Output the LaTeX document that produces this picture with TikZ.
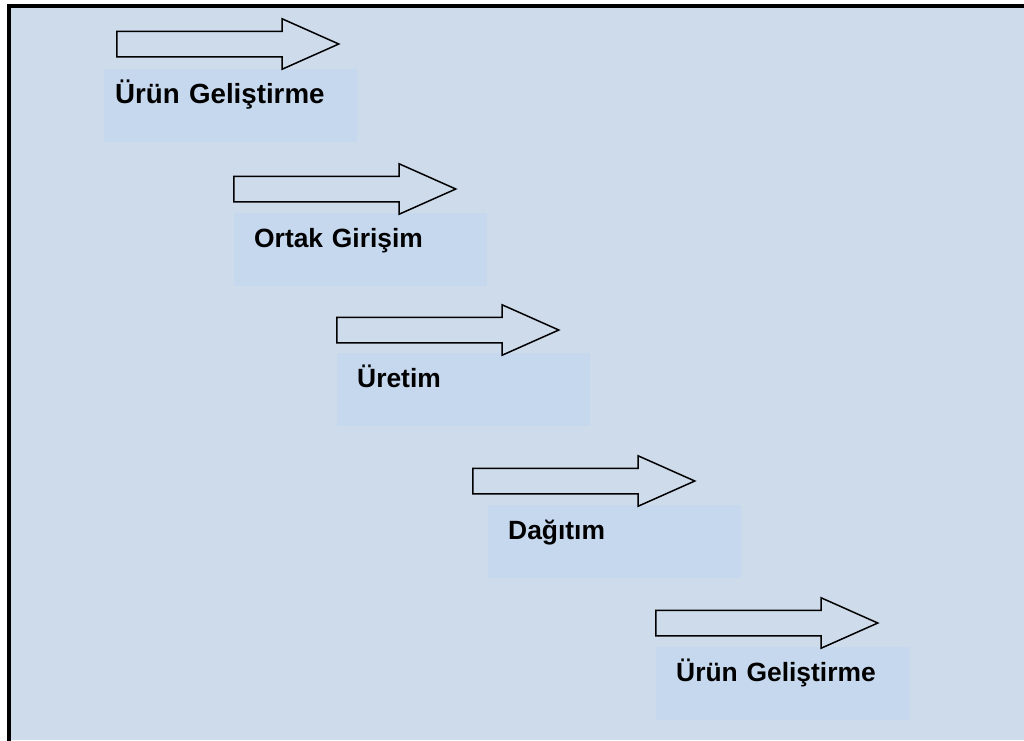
\documentclass[tikz,border=0pt]{standalone}
\usepackage{fontspec}
\setmainfont{Liberation Sans}
\usetikzlibrary{shapes.arrows}

\definecolor{panelbg}{RGB}{206,219,235}
\definecolor{stagefill}{RGB}{198,216,238}

\begin{document}
\begin{tikzpicture}[
    x=1pt, y=-1pt,
    font=\bfseries\fontsize{26.4}{30}\selectfont,
    stagearrow/.style={
        single arrow,
        draw=black,
        line width=1.5pt,
        inner xsep=0pt,
        inner ysep=12pt,
        minimum height=222pt,
        minimum width=49pt,
        single arrow head extend=12.5pt,
        single arrow tip angle=48,
        anchor=tail
    },
    stagebox/.style={
        rectangle,
        fill=stagefill,
        anchor=north west,
        align=left,
        inner ysep=0pt,
        inner xsep=20pt,
        text width=213pt,
        text height=34pt,
        text depth=39pt
    }
]

    % Panel with its frame
    \useasboundingbox (0,0) rectangle (1024,740);
    \fill [white] (0,0) rectangle (1024,740);
    \fill [panelbg] (9,6) rectangle (1024,740);
    \draw [line width=4pt] (9,742) -- (9,6) -- (1026,6);

    % Stage labels
    \node [stagebox, inner xsep=11pt, text width=231pt, font=\bfseries\fontsize{27.7}{30}\selectfont] (stage1) at (104,69) {Ürün Geliştirme};
    \node [stagebox] (stage2) at (234,213) {Ortak Girişim};
    \node [stagebox] (stage3) at (337,353) {Üretim};
    \node [stagebox] (stage4) at (488,505) {Dağıtım};
    \node [stagebox] (stage5) at (656,647) {Ürün Geliştirme};

    % Arrows above the labels
    \node [stagearrow] (arrow1) at (116,44) {};
    \node [stagearrow] (arrow2) at (233,189) {};
    \node [stagearrow] (arrow3) at (336,330) {};
    \node [stagearrow] (arrow4) at (472,481) {};
    \node [stagearrow] (arrow5) at (655,623) {};

\end{tikzpicture}
\end{document}
